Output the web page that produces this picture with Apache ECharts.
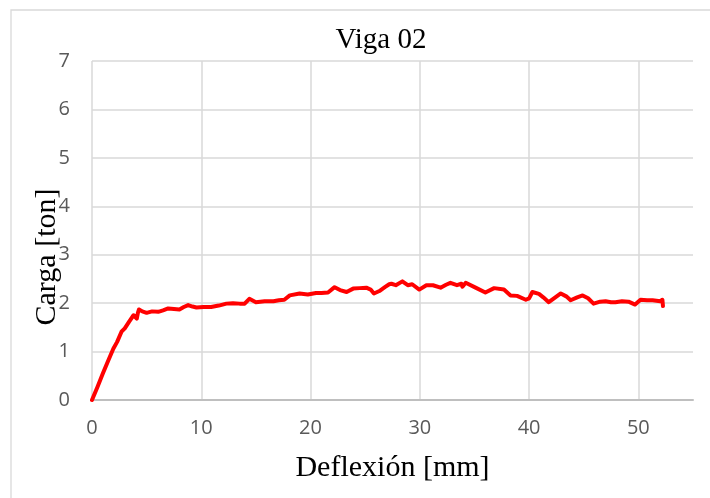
<!DOCTYPE html>
<html>
<head>
<meta charset="utf-8">
<script src="https://cdn.jsdelivr.net/npm/echarts@6/dist/echarts.min.js"></script>
<style>
  body { margin: 0; background: #fff; }
  #chart { width: 710px; height: 498px; }
</style>
</head>
<body>
<div id="chart"></div>
<script>
// deflexion [mm]
var deflexion = [0, 0.5, 1.0, 1.5, 1.95, 2.3, 2.7, 3.0, 3.4, 3.8, 4.1, 4.2, 4.3, 4.6, 5.0, 5.5, 6.06, 6.5, 6.97, 7.5,
  8.0, 8.4, 8.8, 9.2, 9.56, 10.2, 10.9, 11.6, 12.3, 12.9, 13.5, 13.97, 14.4, 15.0, 15.8, 16.6, 17.1, 17.6, 18.1, 19.0,
  19.75, 20.5, 21.0, 21.6, 22.2, 22.7, 23.3, 23.9, 24.5, 25.1, 25.5, 25.8, 26.3, 26.8, 27.2, 27.4, 27.8, 28.4, 28.9, 29.3,
  29.95, 30.6, 31.2, 31.9, 32.4, 32.8, 33.4, 33.8, 33.9, 34.2, 35.1, 36.0, 36.8, 37.7, 38.3, 38.9, 39.7, 40.0, 40.3, 40.9,
  41.3, 41.8, 42.4, 42.9, 43.4, 43.8, 44.4, 44.9, 45.4, 45.9, 46.5, 47.0, 47.5, 47.9, 48.5, 49.1, 49.7, 50.2, 50.8, 51.3,
  52.0, 52.2, 52.25];
// carga [ton]
var carga = [0, 0.27, 0.55, 0.82, 1.06, 1.2, 1.41, 1.48, 1.62, 1.75, 1.68, 1.8, 1.87, 1.83, 1.80, 1.83, 1.82, 1.85, 1.89, 1.88,
  1.87, 1.92, 1.96, 1.93, 1.91, 1.92, 1.92, 1.95, 1.99, 2.0, 1.99, 1.99, 2.09, 2.02, 2.04, 2.04, 2.06, 2.07, 2.16, 2.2,
  2.18, 2.21, 2.21, 2.22, 2.33, 2.27, 2.23, 2.30, 2.31, 2.32, 2.28, 2.2, 2.25, 2.33, 2.39, 2.40, 2.37, 2.45, 2.37, 2.39,
  2.28, 2.37, 2.37, 2.32, 2.38, 2.42, 2.37, 2.40, 2.34, 2.42, 2.32, 2.22, 2.31, 2.28, 2.16, 2.15, 2.07, 2.10, 2.23, 2.19,
  2.12, 2.02, 2.12, 2.2, 2.14, 2.06, 2.12, 2.16, 2.10, 1.99, 2.03, 2.04, 2.02, 2.02, 2.04, 2.03, 1.97, 2.07, 2.06, 2.06,
  2.04, 2.07, 1.94];

var puntos = deflexion.map(function (x, i) { return [x, carga[i]]; });

var chart = echarts.init(document.getElementById('chart'));
var serif = '"Liberation Serif", "Times New Roman", serif';
var sans = '"Open Sans", "Noto Sans", sans-serif';

var option = {
  backgroundColor: '#fff',
  animation: false,
  title: {
    text: 'Viga 02',
    left: 376,
    top: 21,
    textAlign: 'center',
    textStyle: { fontFamily: serif, fontSize: 29, fontWeight: 'normal', color: '#000' }
  },
  graphic: [
    {
      type: 'rect',
      shape: { x: 11, y: 10, width: 740, height: 520 },
      style: { fill: 'none', stroke: '#d9d9d9', lineWidth: 1.3 },
      silent: true
    },
    {
      type: 'text',
      x: 47,
      y: 257,
      rotation: Math.PI / 2,
      style: {
        text: 'Carga [ton]',
        fontFamily: serif,
        fontSize: 30,
        fill: '#000',
        align: 'center',
        verticalAlign: 'middle'
      }
    }
  ],
  grid: { left: 92, right: 17, top: 61, bottom: 98 },
  xAxis: {
    type: 'value',
    min: 0,
    max: 55,
    interval: 10,
    name: 'Deflexión [mm]',
    nameLocation: 'middle',
    nameGap: 53,
    nameTextStyle: { fontFamily: serif, fontSize: 30, color: '#000' },
    axisLine: { show: true, lineStyle: { color: '#bfbfbf', width: 2 } },
    axisTick: { show: false },
    axisLabel: {
      margin: 18,
      fontFamily: sans,
      fontSize: 20,
      color: '#595959',
      showMaxLabel: false
    },
    splitLine: { show: true, showMaxLine: false, lineStyle: { color: '#d9d9d9', width: 1.5 } }
  },
  yAxis: {
    type: 'value',
    min: 0,
    max: 7,
    interval: 1,
    axisLine: { show: false },
    axisTick: { show: false },
    axisLabel: { margin: 22, fontFamily: sans, fontSize: 20, color: '#595959' },
    splitLine: { show: true, lineStyle: { color: '#d9d9d9', width: 1.5 } }
  },
  series: [{
    type: 'line',
    data: puntos,
    showSymbol: false,
    smooth: false,
    lineStyle: { color: '#ff0000', width: 4, join: 'round', cap: 'round' },
    itemStyle: { color: '#ff0000' }
  }]
};

chart.setOption(option);
</script>
</body>
</html>
